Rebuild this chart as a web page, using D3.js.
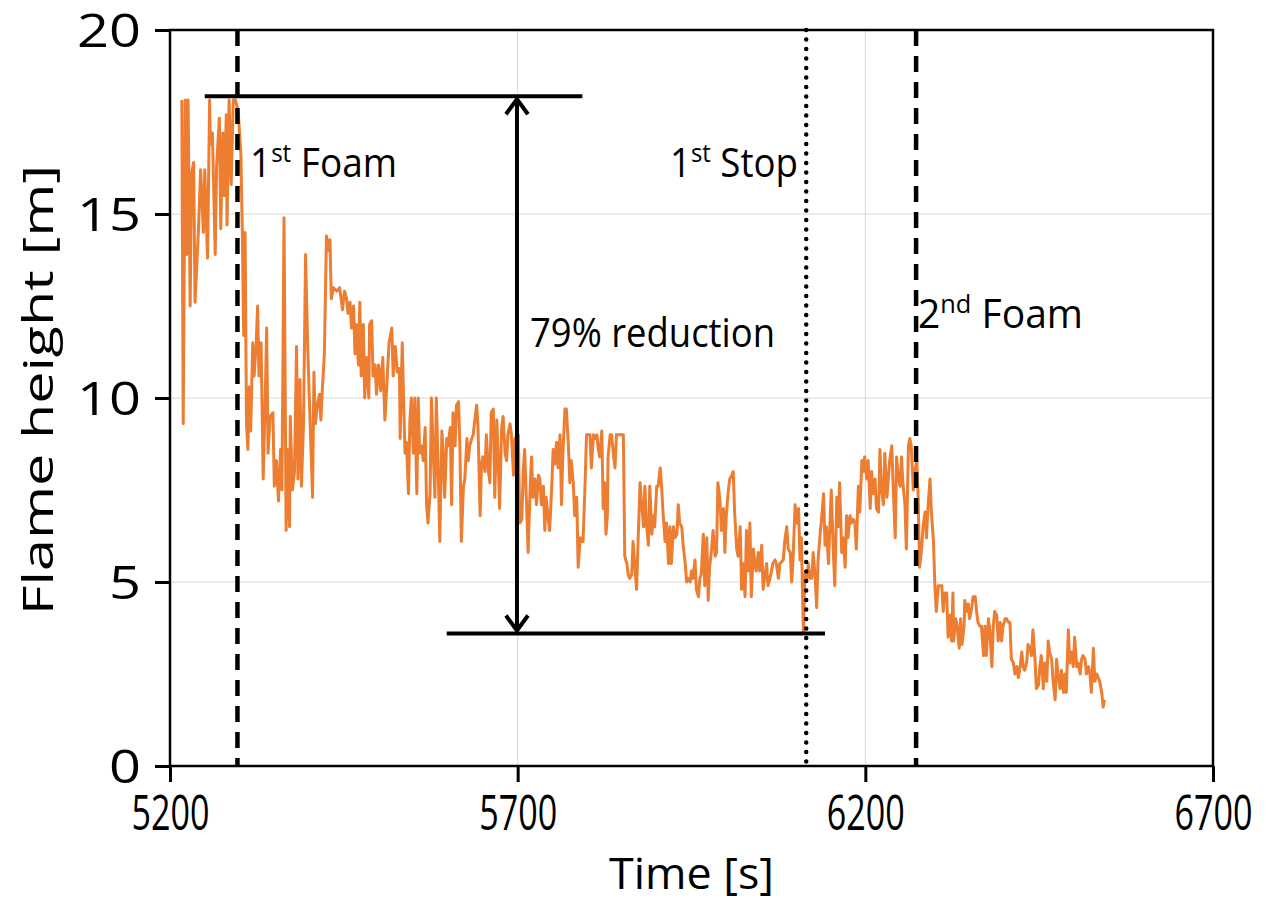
<!DOCTYPE html>
<html>
<head>
<meta charset="utf-8">
<script src="https://cdn.jsdelivr.net/npm/d3@7"></script>
<style>
body { margin: 0; background: #fff; }
text { font-family: "Open Sans", sans-serif; fill: #000; }
</style>
</head>
<body>
<svg id="chart" width="1281" height="922"></svg>
<script>
// flame height record [time s, height m]
var flame = [
[5217,18.1],[5219,9.3],[5222,18.1],[5224,13.9],[5226,18.1],[5229,12.5],[5231,16.1],[5234,16.4],[5236,12.6],[5241,14.6],
[5244,16.2],[5248,14.5],[5250,16.2],[5254,13.8],[5257,18.1],[5258,16.9],[5261,17.2],[5265,13.9],[5267,16.3],[5271,17.6],
[5273,14.6],[5276,17.2],[5278,15.5],[5281,17.7],[5282,14.7],[5285,18.1],[5288,15.8],[5291,18.1],[5294,18.1],[5298,17.8],
[5302,16.6],[5304,14.5],[5306,11.7],[5308,14.5],[5310,9.3],[5312,8.6],[5314,10.3],[5316,9.1],[5319,11.5],[5321,10.6],
[5324,11.5],[5326,12.5],[5328,10.6],[5331,11.5],[5334,7.8],[5337,10.0],[5339,11.9],[5341,8.5],[5344,9.5],[5348,9.6],
[5350,7.6],[5353,8.3],[5356,7.2],[5359,8.6],[5361,7.5],[5364,14.9],[5367,6.4],[5369,8.6],[5372,6.5],[5373,9.5],
[5376,7.5],[5379,8.0],[5382,11.4],[5384,7.8],[5387,10.5],[5389,7.6],[5392,9.3],[5395,13.9],[5398,11.4],[5400,10.2],
[5403,8.5],[5405,7.3],[5407,10.7],[5409,9.3],[5412,9.8],[5415,10.1],[5417,9.4],[5419,10.2],[5422,11.2],[5425,14.4],
[5428,14.0],[5430,14.3],[5432,12.7],[5435,13.0],[5440,12.9],[5444,13.0],[5448,12.4],[5451,12.9],[5454,12.7],[5456,12.3],
[5459,12.6],[5461,11.9],[5464,12.5],[5466,11.2],[5468,12.0],[5471,10.9],[5473,12.6],[5475,10.6],[5478,12.0],[5480,10.0],
[5483,11.1],[5486,10.0],[5487,12.0],[5490,12.1],[5492,10.6],[5495,10.9],[5497,10.1],[5500,10.9],[5503,10.2],[5506,11.1],
[5509,9.4],[5512,10.4],[5515,11.5],[5519,11.9],[5521,10.6],[5524,11.4],[5527,10.7],[5530,10.8],[5531,8.9],[5534,11.5],
[5536,9.9],[5538,8.5],[5540,8.8],[5543,7.4],[5545,9.4],[5547,10.0],[5550,8.5],[5552,10.0],[5555,7.4],[5557,10.0],
[5559,8.5],[5562,8.7],[5564,8.3],[5567,9.2],[5569,7.1],[5571,6.6],[5574,7.4],[5576,10.0],[5579,8.3],[5581,7.3],
[5583,10.0],[5586,7.8],[5588,6.1],[5591,9.1],[5593,8.5],[5595,7.3],[5598,8.9],[5600,8.7],[5603,9.2],[5605,7.1],
[5607,9.6],[5610,8.7],[5612,9.8],[5615,9.9],[5617,8.6],[5619,6.1],[5622,7.6],[5624,7.8],[5627,8.9],[5629,8.3],
[5631,8.7],[5634,8.9],[5636,9.0],[5639,9.5],[5641,9.8],[5643,9.2],[5646,6.8],[5648,8.2],[5650,8.4],[5653,8.0],
[5655,9.0],[5658,8.0],[5660,7.7],[5662,9.6],[5665,9.7],[5667,7.3],[5670,9.4],[5672,8.3],[5674,7.0],[5677,9.2],
[5679,9.5],[5682,8.5],[5684,8.3],[5686,9.0],[5689,9.3],[5691,9.0],[5694,7.9],[5696,8.9],[5701,9.0],[5703,6.6],
[5706,6.7],[5708,8.0],[5710,8.6],[5713,7.0],[5715,5.8],[5718,7.6],[5720,8.4],[5722,7.3],[5725,7.8],[5727,7.1],
[5730,7.9],[5732,7.8],[5734,7.1],[5737,7.6],[5739,6.4],[5741,7.3],[5744,6.7],[5746,6.4],[5749,7.6],[5751,8.6],
[5753,8.2],[5756,8.8],[5758,8.1],[5761,9.0],[5763,7.1],[5765,8.5],[5768,9.7],[5770,9.7],[5773,8.7],[5775,7.7],
[5777,8.3],[5780,7.7],[5782,6.8],[5785,7.3],[5787,5.4],[5790,6.2],[5792,6.1],[5794,6.1],[5797,7.7],[5799,9.0],
[5802,9.0],[5804,9.0],[5806,8.1],[5809,9.0],[5811,8.9],[5814,9.0],[5816,8.6],[5818,8.4],[5821,9.1],[5823,7.0],
[5825,7.7],[5827,6.3],[5829,6.8],[5830,8.4],[5833,9.0],[5835,9.0],[5838,8.4],[5840,8.1],[5842,9.0],[5847,9.0],
[5852,9.0],[5854,5.7],[5857,5.5],[5859,5.2],[5861,5.1],[5864,5.2],[5866,6.1],[5869,5.3],[5871,4.8],[5873,6.0],
[5876,7.7],[5878,7.2],[5881,6.5],[5883,7.6],[5885,6.6],[5888,6.0],[5890,7.6],[5893,6.3],[5895,6.8],[5897,6.5],
[5900,7.6],[5902,7.6],[5905,8.1],[5907,7.6],[5909,6.9],[5912,6.1],[5914,6.6],[5917,5.5],[5919,6.5],[5921,5.5],
[5924,6.5],[5926,6.2],[5929,6.3],[5931,7.1],[5933,6.6],[5936,6.5],[5938,6.0],[5941,5.5],[5943,5.0],[5945,5.1],
[5948,5.0],[5950,5.3],[5952,5.1],[5955,5.6],[5957,4.8],[5960,4.6],[5962,5.1],[5964,5.2],[5967,6.3],[5969,4.9],
[5972,6.2],[5974,4.5],[5976,5.4],[5979,5.9],[5981,6.4],[5984,5.7],[5986,5.8],[5988,7.7],[5991,7.2],[5993,6.4],
[5996,7.0],[5998,5.8],[6000,6.8],[6003,7.5],[6005,7.8],[6008,7.9],[6010,8.0],[6012,6.9],[6015,5.9],[6017,5.7],
[6020,6.5],[6022,4.8],[6024,5.5],[6027,4.6],[6029,6.4],[6032,5.3],[6034,6.6],[6036,4.6],[6039,5.9],[6041,5.5],
[6043,5.3],[6046,5.8],[6048,5.3],[6051,6.0],[6053,4.8],[6055,5.1],[6058,5.5],[6060,4.9],[6063,5.1],[6065,5.3],
[6067,5.5],[6070,5.6],[6072,5.5],[6075,5.1],[6077,5.5],[6082,5.6],[6084,6.1],[6087,6.5],[6089,5.9],[6092,5.8],
[6094,5.0],[6096,5.6],[6099,7.1],[6101,6.6],[6104,7.0],[6106,5.6],[6108,6.2],[6111,3.6],[6113,5.2],[6116,5.1],
[6118,5.5],[6120,5.1],[6123,5.1],[6125,5.8],[6128,5.1],[6130,4.3],[6132,5.6],[6135,6.3],[6137,6.7],[6140,7.4],
[6142,6.0],[6144,6.5],[6147,5.5],[6149,6.5],[6151,7.5],[6154,5.8],[6156,4.9],[6159,7.3],[6161,6.5],[6163,7.7],
[6166,5.8],[6168,6.2],[6171,5.4],[6173,6.8],[6175,6.2],[6178,6.8],[6180,6.6],[6183,6.7],[6185,6.6],[6187,5.9],
[6190,7.6],[6192,6.9],[6195,8.3],[6197,8.0],[6199,8.4],[6202,7.8],[6204,8.3],[6207,7.0],[6209,8.0],[6211,7.4],
[6214,7.8],[6216,7.0],[6219,6.9],[6221,8.6],[6223,7.6],[6226,7.1],[6228,8.5],[6231,7.3],[6233,7.8],[6235,8.3],
[6238,8.7],[6240,7.6],[6243,6.2],[6245,8.4],[6247,7.9],[6250,7.6],[6252,8.4],[6254,7.7],[6257,7.1],[6259,5.9],
[6262,8.7],[6264,8.9],[6266,8.7],[6269,7.5],[6271,8.0],[6274,8.3],[6276,7.3],[6278,5.4],[6281,5.9],[6283,6.5],
[6286,6.9],[6288,6.2],[6290,7.0],[6293,7.8],[6295,6.9],[6298,6.1],[6300,4.9],[6302,4.2],[6305,4.9],[6307,4.9],
[6310,4.9],[6312,4.2],[6314,4.7],[6317,4.7],[6319,3.5],[6322,4.1],[6324,3.4],[6326,4.7],[6327,3.4],[6330,4.0],
[6332,3.8],[6335,3.2],[6337,4.0],[6339,3.3],[6342,3.8],[6343,4.5],[6346,4.2],[6348,4.4],[6350,4.0],[6353,4.3],
[6355,4.6],[6358,4.6],[6360,4.2],[6362,3.9],[6365,3.8],[6367,3.8],[6370,3.0],[6372,3.8],[6374,3.0],[6377,4.0],
[6379,3.7],[6382,2.7],[6384,3.8],[6386,4.2],[6389,4.1],[6391,3.4],[6394,3.9],[6396,3.4],[6398,3.8],[6401,4.0],
[6403,4.0],[6406,3.9],[6408,3.9],[6410,2.9],[6413,2.8],[6415,2.5],[6418,2.7],[6420,2.4],[6422,2.6],[6425,3.1],
[6427,2.7],[6429,2.6],[6432,2.8],[6434,3.3],[6437,3.2],[6439,3.0],[6441,3.7],[6444,2.9],[6446,2.1],[6449,2.2],
[6451,2.7],[6453,3.0],[6456,2.1],[6458,2.8],[6461,2.3],[6463,3.4],[6465,3.1],[6468,2.9],[6470,2.3],[6473,1.8],
[6475,2.9],[6477,2.5],[6480,2.1],[6482,2.6],[6485,2.0],[6487,2.5],[6489,2.0],[6492,3.7],[6494,2.8],[6497,3.1],
[6499,2.7],[6501,3.5],[6504,2.7],[6506,2.8],[6509,2.5],[6511,2.9],[6513,3.0],[6516,2.9],[6518,2.5],[6521,2.7],
[6523,2.5],[6525,2.0],[6528,3.2],[6530,2.3],[6533,2.5],[6535,2.4],[6537,2.3],[6540,2.0],[6542,1.6],[6544,1.8]
];

var xTicks = [5200, 5700, 6200, 6700];
var yTicks = [0, 5, 10, 15, 20];

// event markers
var foamTimes = [5297, 6273];
var stopTime = 6115;
var peakLevel = [5250, 5793, 18.2];   // x from, x to, height
var lowLevel = [5598, 6142, 3.6];
var arrowTime = 5699;

var margin = {left: 170, right: 68, top: 30, bottom: 156};
var width = 1281 - margin.left - margin.right;
var height = 922 - margin.top - margin.bottom;

var svg = d3.select("#chart");
var g = svg.append("g").attr("transform", "translate(" + margin.left + "," + margin.top + ")");

var x = d3.scaleLinear().domain([5200, 6700]).range([0, width]);
var y = d3.scaleLinear().domain([0, 20]).range([height, 0]);

// grid
g.selectAll(".hgrid").data(yTicks.slice(1, -1)).enter().append("line")
  .attr("x1", 0).attr("x2", width)
  .attr("y1", function(d){return y(d);}).attr("y2", function(d){return y(d);})
  .attr("stroke", "#d9d9d9").attr("stroke-width", 1);
g.selectAll(".vgrid").data(xTicks.slice(1, -1)).enter().append("line")
  .attr("y1", 0).attr("y2", height)
  .attr("x1", function(d){return x(d);}).attr("x2", function(d){return x(d);})
  .attr("stroke", "#d9d9d9").attr("stroke-width", 1);

// data line
var line = d3.line().x(function(d){return x(d[0]);}).y(function(d){return y(d[1]);});
g.append("path").datum(flame)
  .attr("d", line)
  .attr("fill", "none")
  .attr("stroke", "#ed7d31")
  .attr("stroke-width", 3)
  .attr("stroke-linejoin", "round");

// frame
g.append("rect").attr("x", 0).attr("y", 0).attr("width", width).attr("height", height)
  .attr("fill", "none").attr("stroke", "#000").attr("stroke-width", 2.5);

// axes
var xAxis = g.append("g").attr("transform", "translate(0," + height + ")")
  .call(d3.axisBottom(x).tickValues(xTicks).tickSize(16).tickPadding(12).tickFormat(d3.format("d")));
var yAxis = g.append("g")
  .call(d3.axisLeft(y).tickValues(yTicks).tickSize(15).tickPadding(14));
[xAxis, yAxis].forEach(function(a){
  a.select(".domain").remove();
  a.selectAll(".tick line").attr("stroke", "#000").attr("stroke-width", 3);
});
xAxis.selectAll(".tick text")
  .style("font-family", "Open Sans").attr("font-size", 50)
  .attr("textLength", 78).attr("lengthAdjust", "spacingAndGlyphs")
  .attr("dy", "0.71em").attr("fill", "#000");
yAxis.selectAll(".tick text")
  .style("font-family", "Open Sans").attr("font-size", 45)
  .attr("textLength", function(d){return String(d).length * 32;})
  .attr("lengthAdjust", "spacingAndGlyphs")
  .attr("dy", "0.36em").attr("fill", "#000");

// axis titles
svg.append("text")
  .attr("x", margin.left + width / 2).attr("y", 889)
  .attr("text-anchor", "middle").attr("font-size", 44)
  .attr("textLength", 165).attr("lengthAdjust", "spacingAndGlyphs")
  .text("Time [s]");
svg.append("text")
  .attr("transform", "translate(53,390) rotate(-90)")
  .attr("text-anchor", "middle").attr("font-size", 42)
  .attr("textLength", 450).attr("lengthAdjust", "spacingAndGlyphs")
  .text("Flame height [m]");

// foam and stop markers
g.selectAll(".foam").data(foamTimes).enter().append("line")
  .attr("x1", function(d){return x(d);}).attr("x2", function(d){return x(d);})
  .attr("y1", 0).attr("y2", height)
  .attr("stroke", "#000").attr("stroke-width", 4.5).attr("stroke-dasharray", "16,10");
g.append("line")
  .attr("x1", x(stopTime)).attr("x2", x(stopTime))
  .attr("y1", 0).attr("y2", height)
  .attr("stroke", "#000").attr("stroke-width", 4.5)
  .attr("stroke-linecap", "round").attr("stroke-dasharray", "0,9.5");

// reduction levels
[peakLevel, lowLevel].forEach(function(l){
  g.append("line")
    .attr("x1", x(l[0])).attr("x2", x(l[1]))
    .attr("y1", y(l[2])).attr("y2", y(l[2]))
    .attr("stroke", "#000").attr("stroke-width", 4);
});

// double arrow
var ax = x(arrowTime), ay1 = y(peakLevel[2]) + 3, ay2 = y(lowLevel[2]) - 3;
g.append("line").attr("x1", ax).attr("x2", ax).attr("y1", ay1).attr("y2", ay2)
  .attr("stroke", "#000").attr("stroke-width", 4);
g.append("path")
  .attr("d", "M" + (ax - 11) + "," + (ay1 + 15) + "L" + ax + "," + ay1 + "L" + (ax + 11) + "," + (ay1 + 15))
  .attr("fill", "none").attr("stroke", "#000").attr("stroke-width", 4);
g.append("path")
  .attr("d", "M" + (ax - 11) + "," + (ay2 - 15) + "L" + ax + "," + ay2 + "L" + (ax + 11) + "," + (ay2 - 15))
  .attr("fill", "none").attr("stroke", "#000").attr("stroke-width", 4);

// labels
var labels = [
  {n: "1", sup: "st", rest: " Foam", x: 250, y: 177, w: 147},
  {n: "1", sup: "st", rest: " Stop", x: 670, y: 177, w: 128},
  {n: "2", sup: "nd", rest: " Foam", x: 918, y: 328, w: 165}
];
labels.forEach(function(l){
  var t = svg.append("text").attr("x", l.x).attr("y", l.y).attr("font-size", 40)
    .attr("textLength", l.w).attr("lengthAdjust", "spacingAndGlyphs");
  t.append("tspan").text(l.n);
  t.append("tspan").attr("font-size", 26).attr("dy", -15).text(l.sup);
  t.append("tspan").attr("dy", 15).text(l.rest);
});
svg.append("text").attr("x", 530).attr("y", 347).attr("font-size", 40)
  .attr("textLength", 245).attr("lengthAdjust", "spacingAndGlyphs")
  .text("79% reduction");
</script>
</body>
</html>
